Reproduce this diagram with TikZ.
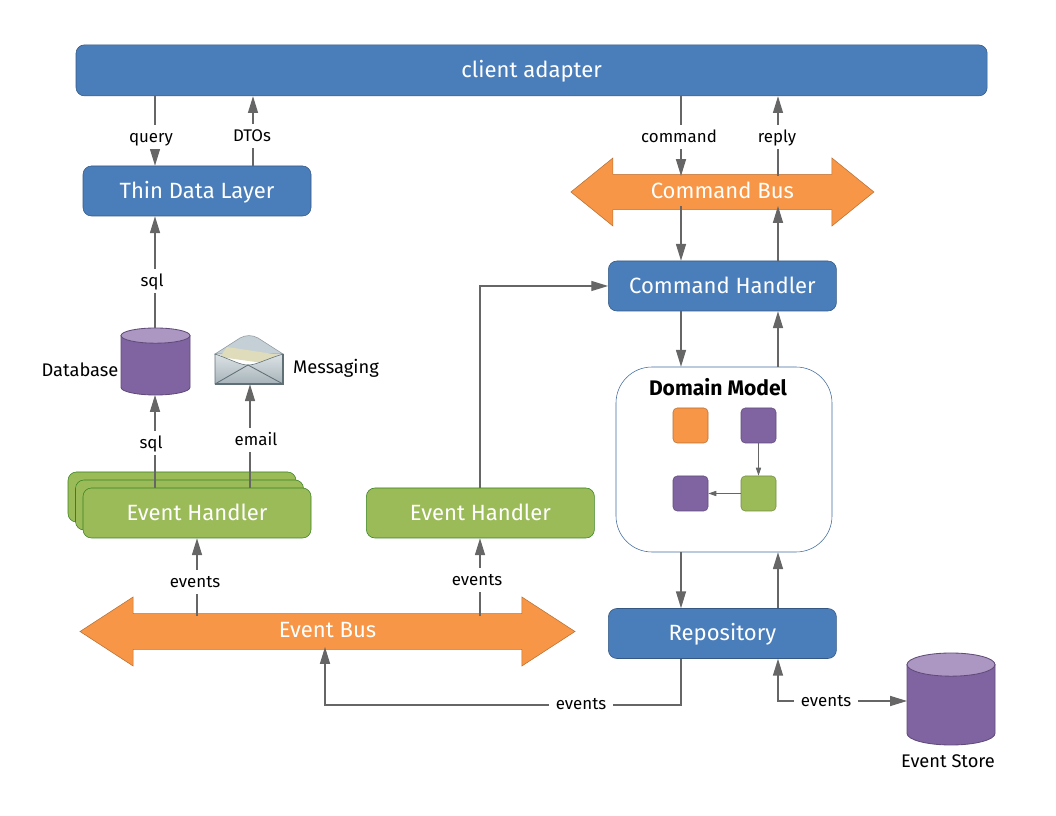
\documentclass[tikz,border=0pt]{standalone}
\usepackage{fontspec}
\setmainfont{Fira Sans}
\usepackage{xcolor}
\usetikzlibrary{shapes.arrows,arrows.meta}
\definecolor{boxblue}{HTML}{4A7EBB}
\definecolor{boxgreen}{HTML}{9BBB59}
\definecolor{busorange}{HTML}{F79646}
\definecolor{dbpurple}{HTML}{8064A2}
\definecolor{dbtop}{HTML}{AC96C2}
\definecolor{linegray}{HTML}{666666}
\definecolor{mailback}{HTML}{C5D0D6}
\definecolor{mailedge}{HTML}{5F6F76}
\tikzset{
  box/.style       = { rectangle, rounded corners=6pt, minimum width=5.7cm, minimum height=1.25cm, text=white, font=\fontsize{15.7}{18}\selectfont, text height=12pt, text depth=2pt },
  bluebox/.style   = { box, fill=boxblue, draw=boxblue!70!black },
  greenbox/.style  = { box, fill=boxgreen, draw=boxgreen!60!green!60!black },
  bus/.style       = { double arrow, fill=busorange, draw=busorange!75!black, text=white, font=\fontsize{15.7}{18}\selectfont, text height=12pt, text depth=3pt, inner ysep=0pt, inner xsep=0pt, double arrow head indent=0pt },
  store/.style     = { rectangle, inner sep=0pt, outer sep=0pt },
  storeline/.style = { draw=dbpurple!75!black, line width=.6pt },
  chip/.style      = { rectangle, rounded corners=3pt, minimum size=.875cm, draw=#1!75!black, fill=#1 },
  flow/.style      = { draw=linegray, line width=.9pt, -{Triangle[length=.42cm,width=.25cm]} },
  flowboth/.style  = { draw=linegray, line width=.9pt, {Triangle[length=.42cm,width=.25cm]}-{Triangle[length=.42cm,width=.25cm]} },
  thin/.style      = { draw=linegray, line width=.6pt, -{Triangle[length=.2cm,width=.13cm]} },
  tag/.style       = { fill=white, inner xsep=5pt, inner ysep=3pt, font=\fontsize{12}{14}\selectfont, text height=9.5pt, text depth=1.5pt },
  caption/.style   = { font=\fontsize{13}{15}\selectfont }
}
\begin{document}
\begin{tikzpicture}
  \useasboundingbox (0,0) rectangle (26.4,20.4);
  % Draw all boxes
  \node[bluebox, minimum width=22.78cm, minimum height=1.275cm] (client_adapter) at (13.29,18.64) {client adapter};
  \node[bluebox] (thin_data) at (4.925,15.625) {Thin Data Layer};
  \node[bluebox] (command_handler) at (18.06,13.25) {Command Handler};
  \node[bluebox] (repository) at (18.06,4.5625) {Repository};
  \node[greenbox] (handler_back) at (4.55,7.975) {};
  \node[greenbox] (handler_mid) at (4.7375,7.775) {};
  \node[greenbox] (handler_front) at (4.925,7.575) {Event Handler};
  \node[greenbox] (handler_single) at (12.01,7.575) {Event Handler};
  % Draw buses
  \node[bus, minimum height=7.575cm, minimum width=1.7cm, double arrow tip angle=78] (command_bus) at (18.06,15.6) {Command Bus};
  \node[bus, minimum height=12.375cm, minimum width=1.725cm, double arrow tip angle=66] (event_bus) at (8.1875,4.6125) {Event Bus};
  % Draw domain model
  \node[rectangle, rounded corners=.9cm, draw=boxblue!85!black, fill=white, minimum width=5.4cm, minimum height=4.625cm] (domain_model) at (18.1,8.9125) {};
  \node[font=\fontsize{15}{18}\selectfont\bfseries] (domain_title) at (17.95,10.725) {Domain Model};
  \node[chip=busorange] (chip_a) at (17.2625,9.7625) {};
  \node[chip=dbpurple] (chip_b) at (18.9625,9.7625) {};
  \node[chip=dbpurple] (chip_c) at (17.2625,8.0625) {};
  \node[chip=boxgreen] (chip_d) at (18.9625,8.0625) {};
  \draw[thin] (chip_b) -- (chip_d);
  \draw[thin] (chip_d) -- (chip_c);
  % Draw stores
  \node[store, minimum width=1.725cm, minimum height=1.675cm] (database) at (3.8875,11.3625) {};
  \draw[storeline, fill=dbpurple] (3.025,12.01) -- (3.025,10.715) arc[start angle=180, end angle=360, x radius=.8625, y radius=.19] -- (4.75,12.01) -- cycle;
  \draw[storeline, fill=dbtop] (3.8875,12.01) ellipse[x radius=.8625, y radius=.19];
  \node[store, minimum width=2.2cm, minimum height=2.3cm] (event_store) at (23.775,2.925) {};
  \draw[storeline, fill=dbpurple] (22.675,3.785) -- (22.675,2.065) arc[start angle=180, end angle=360, x radius=1.1, y radius=.29] -- (24.875,3.785) -- cycle;
  \draw[storeline, fill=dbtop] (23.775,3.785) ellipse[x radius=1.1, y radius=.29];
  % Draw envelope
  \node[minimum width=1.7cm, minimum height=1.2cm, inner sep=0pt] (envelope) at (6.225,11.4) {};
  \draw[draw=mailedge!70!white, fill=mailback] (5.375,11.55) -- (6,11.95) .. controls (6.15,12.03) and (6.3,12.03) .. (6.45,11.95) -- (7.075,11.55) -- cycle;
  \fill[fill=yellow!35!gray!45!white] (5.675,11.725) -- (7,11.525) -- (6.575,11.325) -- (5.5,11.475) -- cycle;
  \draw[draw=mailedge, top color=mailback!60!white, bottom color=mailback!70!mailedge] (5.375,11.55) .. controls (5.8,11.4) and (6,11.275) .. (6.2,11.275) .. controls (6.4,11.275) and (6.6,11.4) .. (7.075,11.55) -- (7.075,10.8) -- (5.375,10.8) -- cycle;
  \draw[draw=mailedge, line width=.6pt] (5.375,10.8) -- (6.2,11.275) -- (7.075,10.8);
  \draw[draw=mailedge, line width=1.2pt] (5.375,10.8) -- (7.075,10.8) -- (7.075,11.55);
  % Draw positions of the connectors
  \coordinate (left_a) at (3.875,0);
  \coordinate (left_b) at (6.325,0);
  \coordinate (left_c) at (6.25,0);
  \coordinate (mid_a) at (4.925,0);
  \coordinate (mid_b) at (12,0);
  \coordinate (mid_c) at (8.125,0);
  \coordinate (right_a) at (17.025,0);
  \coordinate (right_b) at (19.45,0);
  \coordinate (low_a) at (0,2.775);
  \coordinate (low_b) at (0,2.875);
  \coordinate (command_top) at (0,16);
  \coordinate (command_low) at (0,15.25);
  \coordinate (event_top) at (0,5);
  \coordinate (event_low) at (0,4.225);
  % Draw connectors
  \draw[flow] (client_adapter.south -| left_a) -- (thin_data.north -| left_a);
  \draw[flow] (thin_data.north -| left_b) -- (client_adapter.south -| left_b);
  \draw[flow] (client_adapter.south -| right_a) -- (command_top -| right_a);
  \draw[flow] (command_top -| right_b) -- (client_adapter.south -| right_b);
  \draw[flow] (command_low -| right_a) -- (command_handler.north -| right_a);
  \draw[flow] (command_handler.north -| right_b) -- (command_low -| right_b);
  \draw[flow] (database.north -| left_a) -- (thin_data.south -| left_a);
  \draw[flow] (handler_front.north -| left_a) -- (database.south -| left_a);
  \draw[flow] (handler_front.north -| left_c) -- (envelope.south -| left_c);
  \draw[flow] (event_top -| mid_a) -- (handler_front.south -| mid_a);
  \draw[flow] (event_top -| mid_b) -- (handler_single.south -| mid_b);
  \draw[flow] (handler_single.north -| mid_b) |- (command_handler.west);
  \draw[flow] (command_handler.south -| right_a) -- (domain_model.north -| right_a);
  \draw[flow] (domain_model.north -| right_b) -- (command_handler.south -| right_b);
  \draw[flow] (domain_model.south -| right_a) -- (repository.north -| right_a);
  \draw[flow] (repository.north -| right_b) -- (domain_model.south -| right_b);
  \draw[flow] (repository.south -| right_a) |- (low_a -| mid_c) -- (event_low -| mid_c);
  \draw[flowboth] (repository.south -| right_b) |- (low_b -| event_store.west);
  % Draw labels
  \node[tag] (tag_query) at (3.775,16.975) {query};
  \node[tag] (tag_dtos) at (6.3,17) {DTOs};
  \node[tag] (tag_command) at (16.975,16.975) {command};
  \node[tag] (tag_reply) at (19.425,16.975) {reply};
  \node[tag] (tag_sql_up) at (3.8,13.375) {sql};
  \node[tag] (tag_sql_down) at (3.775,9.325) {sql};
  \node[tag] (tag_email) at (6.4,9.4) {email};
  \node[tag] (tag_events_a) at (4.875,5.85) {events};
  \node[tag] (tag_events_b) at (11.925,5.9) {events};
  \node[tag] (tag_events_c) at (14.525,2.8) {events};
  \node[tag] (tag_events_d) at (20.65,2.875) {events};
  \node[caption] (cap_database) at (2,11.15) {Database};
  \node[caption] (cap_messaging) at (8.4,11.2) {Messaging};
  \node[caption] (cap_store) at (23.7,1.375) {Event Store};
\end{tikzpicture}
\end{document}
